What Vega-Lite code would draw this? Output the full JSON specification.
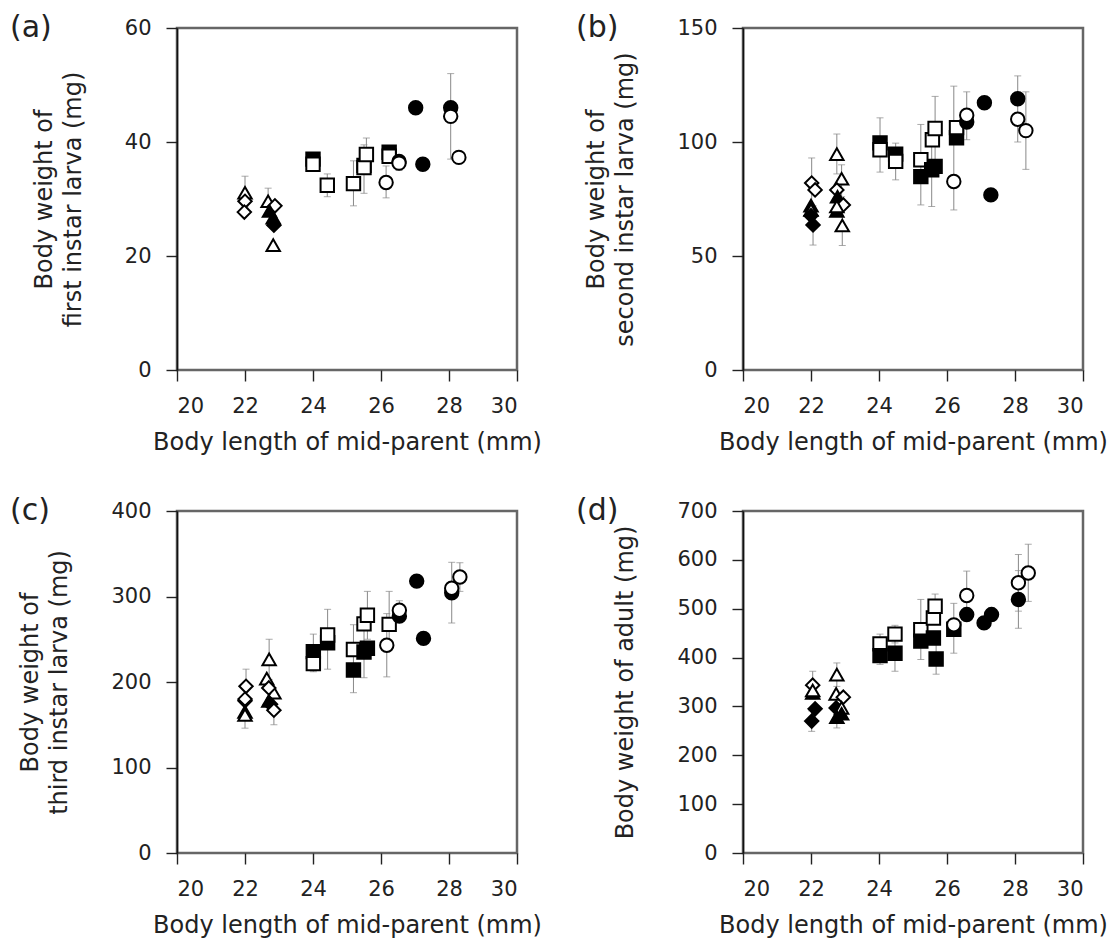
{
  "$schema": "https://vega.github.io/schema/vega-lite/v6.json",
  "background": "white",
  "padding": {"left": 8, "top": 11, "right": 2, "bottom": 2},
  "config": {
    "font": "DejaVu Sans",
    "view": {"stroke": "#666", "strokeWidth": 2.5},
    "axis": {"grid": false, "domainColor": "#111", "domainWidth": 1.6, "tickColor": "#222", "tickWidth": 1.4, "tickSize": 11, "labelFontSize": 21, "labelColor": "#222", "titleFontSize": 24, "titleFontWeight": "normal", "titleColor": "#222", "labelFont": "DejaVu Sans", "titleFont": "DejaVu Sans"},
    "axisX": {"labelPadding": 14, "titlePadding": 14, "domain": false},
    "axisY": {"labelPadding": 15, "titlePadding": 39, "titleLineHeight": 29},
    "title": {"anchor": "start", "frame": "group", "orient": "top", "offset": -26, "dx": -167, "baseline": "alphabetic", "fontSize": 30, "fontWeight": "normal", "font": "DejaVu Sans", "color": "#222"}
  },
  "datasets": {
    "a": [
      {"x": 22.0, "y": 31.1, "s": "triangle", "f": "open", "lo": 28.6, "hi": 34.0},
      {"x": 22.0, "y": 29.6, "s": "diamond", "f": "open"},
      {"x": 21.98, "y": 27.7, "s": "diamond", "f": "open"},
      {"x": 22.68, "y": 29.6, "s": "triangle", "f": "open", "lo": 27.4, "hi": 31.9},
      {"x": 22.88, "y": 28.8, "s": "diamond", "f": "open"},
      {"x": 22.72, "y": 27.9, "s": "triangle", "f": "filled"},
      {"x": 22.83, "y": 26.7, "s": "triangle", "f": "filled"},
      {"x": 22.85, "y": 25.4, "s": "diamond", "f": "filled"},
      {"x": 22.83, "y": 21.9, "s": "triangle", "f": "open"},
      {"x": 24.0, "y": 37.0, "s": "square", "f": "filled"},
      {"x": 24.0, "y": 36.1, "s": "square", "f": "open"},
      {"x": 24.42, "y": 32.4, "s": "square", "f": "open", "lo": 30.4, "hi": 34.4},
      {"x": 25.19, "y": 32.7, "s": "square", "f": "open", "lo": 28.8, "hi": 36.7},
      {"x": 25.5, "y": 35.9, "s": "square", "f": "filled"},
      {"x": 25.5, "y": 35.5, "s": "square", "f": "open", "lo": 31.0, "hi": 39.5},
      {"x": 25.57, "y": 37.8, "s": "square", "f": "open", "lo": 35.5, "hi": 40.7},
      {"x": 26.24, "y": 38.2, "s": "square", "f": "filled"},
      {"x": 26.24, "y": 37.5, "s": "square", "f": "open"},
      {"x": 26.15, "y": 32.9, "s": "circle", "f": "open", "lo": 30.2, "hi": 35.8},
      {"x": 26.53, "y": 36.6, "s": "circle", "f": "filled"},
      {"x": 26.53, "y": 36.3, "s": "circle", "f": "open", "lo": 35.0, "hi": 37.6},
      {"x": 27.02, "y": 46.0, "s": "circle", "f": "filled"},
      {"x": 27.23, "y": 36.1, "s": "circle", "f": "filled"},
      {"x": 28.05, "y": 46.0, "s": "circle", "f": "filled"},
      {"x": 28.05, "y": 44.5, "s": "circle", "f": "open", "lo": 37.0, "hi": 52.0},
      {"x": 28.29, "y": 37.3, "s": "circle", "f": "open"}
    ],
    "b": [
      {"x": 22.02, "y": 82.0, "s": "diamond", "f": "open", "lo": 72, "hi": 93},
      {"x": 22.12, "y": 79, "s": "diamond", "f": "open"},
      {"x": 22.0, "y": 72.1, "s": "triangle", "f": "filled"},
      {"x": 22.0, "y": 70.2, "s": "triangle", "f": "open"},
      {"x": 22.0, "y": 67.7, "s": "diamond", "f": "filled"},
      {"x": 22.06, "y": 63.6, "s": "diamond", "f": "filled", "lo": 54.8, "hi": 72},
      {"x": 22.76, "y": 94.7, "s": "triangle", "f": "open", "lo": 86, "hi": 103.5},
      {"x": 22.9, "y": 83.9, "s": "triangle", "f": "open", "lo": 76, "hi": 90},
      {"x": 22.76, "y": 79, "s": "diamond", "f": "open"},
      {"x": 22.78, "y": 76, "s": "triangle", "f": "filled"},
      {"x": 22.95, "y": 72.4, "s": "diamond", "f": "open"},
      {"x": 22.76, "y": 69.8, "s": "triangle", "f": "filled"},
      {"x": 22.76, "y": 71.7, "s": "triangle", "f": "open"},
      {"x": 22.92, "y": 63.4, "s": "triangle", "f": "open", "lo": 54.6, "hi": 72},
      {"x": 24.03, "y": 99.6, "s": "square", "f": "filled"},
      {"x": 24.03, "y": 96.6, "s": "square", "f": "open", "lo": 86.8, "hi": 110.6},
      {"x": 24.49, "y": 94.7, "s": "square", "f": "filled"},
      {"x": 24.49, "y": 91.5, "s": "square", "f": "open", "lo": 83.4, "hi": 99.5},
      {"x": 25.23, "y": 92.2, "s": "square", "f": "open", "lo": 72.4, "hi": 107.7},
      {"x": 25.23, "y": 84.8, "s": "square", "f": "filled"},
      {"x": 25.57, "y": 101, "s": "square", "f": "open"},
      {"x": 25.65, "y": 105.9, "s": "square", "f": "open", "lo": 92, "hi": 120},
      {"x": 25.65, "y": 89.3, "s": "square", "f": "filled"},
      {"x": 25.55, "y": 87.8, "s": "square", "f": "filled", "lo": 71.7, "hi": 104},
      {"x": 26.2, "y": 82.7, "s": "circle", "f": "open", "lo": 70.2, "hi": 124.5},
      {"x": 26.28, "y": 101.9, "s": "square", "f": "filled"},
      {"x": 26.28, "y": 106.3, "s": "square", "f": "open"},
      {"x": 26.58, "y": 108.8, "s": "circle", "f": "filled"},
      {"x": 26.58, "y": 111.7, "s": "circle", "f": "open", "lo": 101, "hi": 122},
      {"x": 27.1, "y": 117.2, "s": "circle", "f": "filled"},
      {"x": 27.29, "y": 76.8, "s": "circle", "f": "filled"},
      {"x": 28.08, "y": 119, "s": "circle", "f": "filled"},
      {"x": 28.08, "y": 110, "s": "circle", "f": "open", "lo": 100, "hi": 129},
      {"x": 28.32, "y": 105, "s": "circle", "f": "open", "lo": 88, "hi": 122}
    ],
    "c": [
      {"x": 22.03, "y": 195, "s": "diamond", "f": "open", "lo": 175, "hi": 215},
      {"x": 22.0, "y": 178, "s": "diamond", "f": "filled"},
      {"x": 22.0, "y": 180, "s": "diamond", "f": "open"},
      {"x": 22.0, "y": 165, "s": "triangle", "f": "filled"},
      {"x": 22.0, "y": 161.4, "s": "triangle", "f": "open", "lo": 146, "hi": 177},
      {"x": 22.71, "y": 226.5, "s": "triangle", "f": "open", "lo": 203, "hi": 250},
      {"x": 22.64, "y": 204, "s": "triangle", "f": "open"},
      {"x": 22.85, "y": 187.5, "s": "triangle", "f": "open"},
      {"x": 22.7, "y": 193, "s": "diamond", "f": "open"},
      {"x": 22.7, "y": 177.8, "s": "triangle", "f": "filled"},
      {"x": 22.75, "y": 174, "s": "diamond", "f": "filled"},
      {"x": 22.85, "y": 167, "s": "diamond", "f": "open", "lo": 150, "hi": 184},
      {"x": 24.01, "y": 235.5, "s": "square", "f": "filled", "lo": 212, "hi": 256},
      {"x": 24.01, "y": 221.5, "s": "square", "f": "open"},
      {"x": 24.43, "y": 246, "s": "square", "f": "filled"},
      {"x": 24.43, "y": 255, "s": "square", "f": "open", "lo": 215, "hi": 285},
      {"x": 25.19, "y": 238, "s": "square", "f": "open", "lo": 209, "hi": 267},
      {"x": 25.19, "y": 214, "s": "square", "f": "filled", "lo": 187.5, "hi": 240},
      {"x": 25.5, "y": 268, "s": "square", "f": "open"},
      {"x": 25.6, "y": 278, "s": "square", "f": "open", "lo": 250, "hi": 306},
      {"x": 25.5, "y": 235, "s": "square", "f": "filled", "lo": 205, "hi": 262},
      {"x": 25.6, "y": 239.5, "s": "square", "f": "filled"},
      {"x": 26.24, "y": 267.4, "s": "square", "f": "open", "lo": 240, "hi": 306},
      {"x": 26.17, "y": 243, "s": "circle", "f": "open", "lo": 206, "hi": 280},
      {"x": 26.54, "y": 277, "s": "circle", "f": "filled"},
      {"x": 26.54, "y": 284, "s": "circle", "f": "open", "lo": 270, "hi": 295},
      {"x": 27.05, "y": 318, "s": "circle", "f": "filled"},
      {"x": 27.25, "y": 251, "s": "circle", "f": "filled"},
      {"x": 28.08, "y": 304.4, "s": "circle", "f": "filled", "lo": 269, "hi": 340},
      {"x": 28.08, "y": 309.6, "s": "circle", "f": "open"},
      {"x": 28.32, "y": 322.8, "s": "circle", "f": "open", "lo": 306, "hi": 339.5}
    ],
    "d": [
      {"x": 22.05, "y": 343.6, "s": "diamond", "f": "open", "lo": 315, "hi": 372},
      {"x": 22.05, "y": 327.6, "s": "triangle", "f": "filled"},
      {"x": 22.05, "y": 332.6, "s": "triangle", "f": "open"},
      {"x": 22.12, "y": 295, "s": "diamond", "f": "filled"},
      {"x": 22.02, "y": 270, "s": "diamond", "f": "filled", "lo": 249, "hi": 291},
      {"x": 22.76, "y": 365, "s": "triangle", "f": "open", "lo": 341, "hi": 389},
      {"x": 22.74, "y": 325.6, "s": "triangle", "f": "open"},
      {"x": 22.95, "y": 319, "s": "diamond", "f": "open"},
      {"x": 22.74, "y": 297, "s": "diamond", "f": "filled"},
      {"x": 22.9, "y": 297, "s": "triangle", "f": "open"},
      {"x": 22.9, "y": 285, "s": "triangle", "f": "filled"},
      {"x": 22.76, "y": 278, "s": "triangle", "f": "filled", "lo": 256, "hi": 300},
      {"x": 24.03, "y": 428, "s": "square", "f": "open", "lo": 408, "hi": 448},
      {"x": 24.03, "y": 404, "s": "square", "f": "filled", "lo": 386, "hi": 422},
      {"x": 24.47, "y": 448, "s": "square", "f": "open", "lo": 430, "hi": 466},
      {"x": 24.47, "y": 409, "s": "square", "f": "filled", "lo": 372, "hi": 446},
      {"x": 25.23, "y": 457, "s": "square", "f": "open", "lo": 396, "hi": 519},
      {"x": 25.23, "y": 433.6, "s": "square", "f": "filled"},
      {"x": 25.6, "y": 481, "s": "square", "f": "open"},
      {"x": 25.65, "y": 505, "s": "square", "f": "open", "lo": 480, "hi": 530},
      {"x": 25.6, "y": 440, "s": "square", "f": "filled"},
      {"x": 25.68, "y": 397, "s": "square", "f": "filled", "lo": 366, "hi": 428},
      {"x": 26.2, "y": 458, "s": "square", "f": "filled"},
      {"x": 26.2, "y": 467, "s": "circle", "f": "open", "lo": 409, "hi": 511},
      {"x": 26.58, "y": 488, "s": "circle", "f": "filled"},
      {"x": 26.58, "y": 527, "s": "circle", "f": "open", "lo": 477, "hi": 577},
      {"x": 27.09, "y": 471, "s": "circle", "f": "filled"},
      {"x": 27.31, "y": 488, "s": "circle", "f": "filled"},
      {"x": 28.1, "y": 519, "s": "circle", "f": "filled", "lo": 460, "hi": 578},
      {"x": 28.1, "y": 553, "s": "circle", "f": "open", "lo": 495, "hi": 611},
      {"x": 28.39, "y": 573, "s": "circle", "f": "open", "lo": 515, "hi": 632}
    ]
  },
  "columns": 2,
  "bounds": "flush",
  "spacing": {"row": 141, "column": 226},
  "concat": [
    {
      "width": 340, "height": 342,
      "title": {"text": "(a)"},
      "data": {"name": "a"},
      "encoding": {"x": {"field": "x", "type": "quantitative", "scale": {"domain": [20, 30], "nice": false, "zero": false}, "axis": {"values": [20, 22, 24, 26, 28, 30]}, "title": "Body length of mid-parent (mm)"}},
      "layer": [
        {"transform": [{"filter": "isValid(datum.lo)"}], "mark": {"type": "errorbar", "ticks": true, "size": 7, "thickness": 1, "color": "#888"},
         "encoding": {"y": {"field": "lo", "type": "quantitative", "scale": {"domain": [0, 60], "nice": false}, "axis": {"values": [0, 20, 40, 60]}, "title": ["Body weight of", "first instar larva (mg)"]}, "y2": {"field": "hi"}}},
        {"mark": {"type": "point", "filled": true, "stroke": "black", "strokeWidth": 2, "size": 180, "opacity": 1},
         "encoding": {"y": {"field": "y", "type": "quantitative", "title": ["Body weight of", "first instar larva (mg)"]},
           "shape": {"field": "s", "type": "nominal", "scale": {"domain": ["circle", "square", "triangle", "diamond"], "range": ["circle", "square", "triangle-up", "diamond"]}, "legend": null},
           "fill": {"field": "f", "type": "nominal", "scale": {"domain": ["open", "filled"], "range": ["white", "black"]}, "legend": null}}}
      ]
    },
    {
      "width": 340, "height": 342,
      "title": {"text": "(b)"},
      "data": {"name": "b"},
      "encoding": {"x": {"field": "x", "type": "quantitative", "scale": {"domain": [20, 30], "nice": false, "zero": false}, "axis": {"values": [20, 22, 24, 26, 28, 30]}, "title": "Body length of mid-parent (mm)"}},
      "layer": [
        {"transform": [{"filter": "isValid(datum.lo)"}], "mark": {"type": "errorbar", "ticks": true, "size": 7, "thickness": 1, "color": "#888"},
         "encoding": {"y": {"field": "lo", "type": "quantitative", "scale": {"domain": [0, 150], "nice": false}, "axis": {"values": [0, 50, 100, 150]}, "title": ["Body weight of", "second instar larva (mg)"]}, "y2": {"field": "hi"}}},
        {"mark": {"type": "point", "filled": true, "stroke": "black", "strokeWidth": 2, "size": 180, "opacity": 1},
         "encoding": {"y": {"field": "y", "type": "quantitative", "title": ["Body weight of", "second instar larva (mg)"]},
           "shape": {"field": "s", "type": "nominal", "scale": {"domain": ["circle", "square", "triangle", "diamond"], "range": ["circle", "square", "triangle-up", "diamond"]}, "legend": null},
           "fill": {"field": "f", "type": "nominal", "scale": {"domain": ["open", "filled"], "range": ["white", "black"]}, "legend": null}}}
      ]
    },
    {
      "width": 340, "height": 342,
      "title": {"text": "(c)"},
      "data": {"name": "c"},
      "encoding": {"x": {"field": "x", "type": "quantitative", "scale": {"domain": [20, 30], "nice": false, "zero": false}, "axis": {"values": [20, 22, 24, 26, 28, 30]}, "title": "Body length of mid-parent (mm)"}},
      "layer": [
        {"transform": [{"filter": "isValid(datum.lo)"}], "mark": {"type": "errorbar", "ticks": true, "size": 7, "thickness": 1, "color": "#888"},
         "encoding": {"y": {"field": "lo", "type": "quantitative", "scale": {"domain": [0, 400], "nice": false}, "axis": {"values": [0, 100, 200, 300, 400]}, "title": ["Body weight of", "third instar larva (mg)"]}, "y2": {"field": "hi"}}},
        {"mark": {"type": "point", "filled": true, "stroke": "black", "strokeWidth": 2, "size": 180, "opacity": 1},
         "encoding": {"y": {"field": "y", "type": "quantitative", "title": ["Body weight of", "third instar larva (mg)"]},
           "shape": {"field": "s", "type": "nominal", "scale": {"domain": ["circle", "square", "triangle", "diamond"], "range": ["circle", "square", "triangle-up", "diamond"]}, "legend": null},
           "fill": {"field": "f", "type": "nominal", "scale": {"domain": ["open", "filled"], "range": ["white", "black"]}, "legend": null}}}
      ]
    },
    {
      "width": 340, "height": 342,
      "title": {"text": "(d)"},
      "data": {"name": "d"},
      "encoding": {"x": {"field": "x", "type": "quantitative", "scale": {"domain": [20, 30], "nice": false, "zero": false}, "axis": {"values": [20, 22, 24, 26, 28, 30]}, "title": "Body length of mid-parent (mm)"}},
      "layer": [
        {"transform": [{"filter": "isValid(datum.lo)"}], "mark": {"type": "errorbar", "ticks": true, "size": 7, "thickness": 1, "color": "#888"},
         "encoding": {"y": {"field": "lo", "type": "quantitative", "scale": {"domain": [0, 700], "nice": false}, "axis": {"values": [0, 100, 200, 300, 400, 500, 600, 700]}, "title": "Body weight of adult (mg)"}, "y2": {"field": "hi"}}},
        {"mark": {"type": "point", "filled": true, "stroke": "black", "strokeWidth": 2, "size": 180, "opacity": 1},
         "encoding": {"y": {"field": "y", "type": "quantitative", "title": "Body weight of adult (mg)"},
           "shape": {"field": "s", "type": "nominal", "scale": {"domain": ["circle", "square", "triangle", "diamond"], "range": ["circle", "square", "triangle-up", "diamond"]}, "legend": null},
           "fill": {"field": "f", "type": "nominal", "scale": {"domain": ["open", "filled"], "range": ["white", "black"]}, "legend": null}}}
      ]
    }
  ]
}
